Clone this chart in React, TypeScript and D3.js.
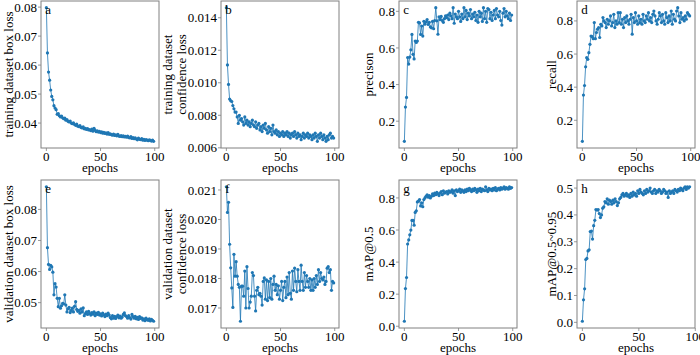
import React from "react";
import * as d3 from "d3";

const trainBoxLoss = [0.0798,0.0642,0.0576,0.0548,0.0514,0.0492,0.0480,0.0460,0.0452,0.0446,0.0430,0.0433,0.0425,0.0421,0.0424,0.0418,0.0415,0.0417,0.0410,0.0412,0.0406,0.0404,0.0407,0.0400,0.0398,0.0401,0.0395,0.0392,0.0396,0.0389,0.0388,0.0391,0.0385,0.0383,0.0387,0.0380,0.0382,0.0378,0.0381,0.0376,0.0377,0.0374,0.0379,0.0372,0.0382,0.0375,0.0370,0.0373,0.0369,0.0371,0.0367,0.0370,0.0365,0.0368,0.0364,0.0366,0.0362,0.0367,0.0361,0.0363,0.0360,0.0358,0.0362,0.0357,0.0359,0.0356,0.0361,0.0355,0.0354,0.0357,0.0353,0.0356,0.0352,0.0354,0.0351,0.0355,0.0350,0.0349,0.0353,0.0347,0.0350,0.0346,0.0349,0.0345,0.0342,0.0348,0.0344,0.0343,0.0346,0.0341,0.0344,0.0340,0.0343,0.0341,0.0339,0.0342,0.0340,0.0338,0.0341,0.0337];
const trainConfLoss = [0.01462,0.0111,0.0099,0.0090,0.0089,0.00885,0.0086,0.0084,0.0082,0.0082,0.0079,0.0075,0.0080,0.0077,0.0078,0.0076,0.0074,0.0079,0.0075,0.0077,0.0074,0.0076,0.0073,0.0075,0.0077,0.0074,0.0073,0.0076,0.0072,0.0074,0.0075,0.0071,0.0073,0.0070,0.0074,0.0072,0.0075,0.0071,0.0069,0.0073,0.0070,0.0072,0.0068,0.0074,0.0070,0.0069,0.0071,0.0068,0.0070,0.0067,0.0069,0.0068,0.0070,0.0067,0.0069,0.0068,0.0070,0.0067,0.0069,0.0066,0.0068,0.0069,0.0067,0.0070,0.0068,0.0066,0.0069,0.0067,0.0068,0.0065,0.0067,0.0069,0.0066,0.0068,0.0067,0.0069,0.0066,0.0068,0.0067,0.0065,0.0068,0.0066,0.0069,0.0067,0.0064,0.0068,0.0066,0.0069,0.0067,0.0065,0.0068,0.0066,0.0064,0.0067,0.0065,0.0068,0.0069,0.0066,0.0067,0.0066];
const precision = [0.090,0.277,0.330,0.548,0.512,0.550,0.590,0.674,0.565,0.540,0.638,0.630,0.638,0.740,0.737,0.674,0.720,0.665,0.746,0.730,0.742,0.755,0.728,0.740,0.715,0.710,0.745,0.705,0.750,0.820,0.748,0.675,0.770,0.755,0.772,0.750,0.740,0.760,0.775,0.765,0.780,0.755,0.790,0.775,0.760,0.820,0.735,0.785,0.770,0.760,0.800,0.770,0.745,0.785,0.760,0.820,0.770,0.805,0.755,0.790,0.775,0.810,0.760,0.785,0.770,0.795,0.750,0.780,0.740,0.800,0.770,0.790,0.745,0.820,0.760,0.800,0.740,0.815,0.810,0.760,0.795,0.750,0.780,0.805,0.760,0.815,0.780,0.770,0.800,0.750,0.725,0.790,0.815,0.770,0.800,0.775,0.760,0.790,0.750,0.780];
const recall = [0.073,0.352,0.410,0.523,0.578,0.568,0.608,0.659,0.709,0.705,0.693,0.790,0.693,0.730,0.750,0.760,0.700,0.780,0.770,0.820,0.800,0.790,0.760,0.810,0.780,0.800,0.830,0.770,0.790,0.840,0.760,0.800,0.780,0.850,0.790,0.850,0.780,0.810,0.760,0.820,0.790,0.830,0.800,0.780,0.810,0.840,0.720,0.820,0.790,0.850,0.800,0.780,0.830,0.790,0.810,0.780,0.840,0.800,0.790,0.830,0.810,0.850,0.800,0.820,0.790,0.840,0.860,0.830,0.800,0.780,0.810,0.850,0.830,0.790,0.840,0.800,0.780,0.850,0.820,0.790,0.830,0.800,0.860,0.780,0.840,0.810,0.800,0.860,0.880,0.830,0.790,0.850,0.810,0.820,0.800,0.830,0.810,0.850,0.840,0.830];
const valBoxLoss = [0.0873,0.0677,0.0623,0.0607,0.0620,0.0615,0.0598,0.0525,0.0561,0.0550,0.0514,0.0487,0.0514,0.0482,0.0490,0.0498,0.0496,0.0525,0.0492,0.0470,0.0480,0.0485,0.0468,0.0475,0.0482,0.0470,0.0488,0.0503,0.0478,0.0472,0.0475,0.0466,0.0480,0.0470,0.0483,0.0458,0.0465,0.0470,0.0462,0.0472,0.0465,0.0460,0.0468,0.0463,0.0470,0.0458,0.0466,0.0462,0.0469,0.0460,0.0464,0.0457,0.0466,0.0461,0.0455,0.0463,0.0458,0.0466,0.0460,0.0452,0.0448,0.0458,0.0450,0.0456,0.0449,0.0455,0.0460,0.0451,0.0457,0.0450,0.0454,0.0462,0.0467,0.0458,0.0455,0.0450,0.0458,0.0452,0.0447,0.0462,0.0455,0.0450,0.0456,0.0448,0.0453,0.0446,0.0455,0.0449,0.0451,0.0444,0.0448,0.0442,0.0450,0.0445,0.0443,0.0448,0.0441,0.0446,0.0443,0.0440];
const valConfLoss = [0.02111,0.02024,0.02058,0.01916,0.01836,0.01768,0.01702,0.01882,0.01808,0.01857,0.01808,0.01780,0.01770,0.01655,0.01774,0.01774,0.01740,0.01825,0.01700,0.01840,0.01766,0.01700,0.01720,0.01740,0.01820,0.01810,0.01740,0.01690,0.01760,0.01770,0.01745,0.01750,0.01740,0.01710,0.01790,0.01802,0.01730,0.01795,0.01725,0.01790,0.01735,0.01800,0.01730,0.01780,0.01808,0.01760,0.01780,0.01745,0.01775,0.01730,0.01760,0.01790,0.01725,0.01770,0.01790,0.01735,0.01805,0.01745,0.01820,0.01750,0.01730,0.01825,0.01760,0.01835,0.01790,0.01755,0.01830,0.01790,0.01760,0.01845,0.01790,0.01760,0.01820,0.01770,0.01810,0.01790,0.01770,0.01800,0.01760,0.01795,0.01760,0.01800,0.01770,0.01810,0.01780,0.01830,0.01790,0.01820,0.01800,0.01795,0.01805,0.01780,0.01790,0.01835,0.01840,0.01820,0.01830,0.01760,0.01790,0.01785];
const map50 = [0.031,0.235,0.304,0.513,0.538,0.570,0.600,0.660,0.660,0.630,0.710,0.720,0.775,0.780,0.790,0.750,0.770,0.745,0.790,0.800,0.810,0.820,0.805,0.815,0.800,0.810,0.825,0.815,0.830,0.820,0.835,0.825,0.815,0.830,0.840,0.820,0.845,0.830,0.835,0.840,0.825,0.845,0.835,0.840,0.850,0.830,0.845,0.815,0.850,0.840,0.845,0.855,0.835,0.850,0.845,0.835,0.850,0.840,0.855,0.845,0.860,0.850,0.840,0.855,0.845,0.860,0.850,0.835,0.855,0.845,0.860,0.840,0.855,0.850,0.845,0.870,0.850,0.840,0.860,0.850,0.855,0.845,0.860,0.850,0.865,0.845,0.855,0.860,0.850,0.865,0.855,0.860,0.870,0.855,0.865,0.860,0.855,0.870,0.860,0.865];
const map5095 = [0.004,0.084,0.125,0.234,0.238,0.266,0.270,0.338,0.340,0.310,0.360,0.380,0.420,0.418,0.420,0.405,0.390,0.400,0.425,0.430,0.450,0.445,0.460,0.440,0.455,0.450,0.440,0.455,0.445,0.460,0.450,0.435,0.445,0.460,0.465,0.475,0.480,0.470,0.475,0.480,0.470,0.475,0.465,0.480,0.470,0.485,0.475,0.480,0.470,0.490,0.480,0.495,0.485,0.480,0.475,0.490,0.480,0.495,0.485,0.490,0.500,0.485,0.480,0.490,0.495,0.480,0.490,0.485,0.495,0.490,0.480,0.485,0.495,0.490,0.480,0.485,0.465,0.490,0.480,0.485,0.490,0.480,0.495,0.490,0.485,0.495,0.490,0.500,0.495,0.490,0.500,0.505,0.495,0.505,0.500,0.505];

const xTicks = [0, 50, 100];
const panelLetters = ["a", "b", "c", "d", "e", "f", "g", "h"];
const yLabels = [
  ["training dataset box loss"],
  ["training dataset", "confidence loss"],
  ["precison"],
  ["recall"],
  ["validation dataset box loss"],
  ["validation dataset", "confidence loss"],
  ["mAP@0.5"],
  ["mAP@0.5~0.95"],
];
const yTickSets = [
  [0.04, 0.05, 0.06, 0.07, 0.08],
  [0.006, 0.008, 0.010, 0.012, 0.014],
  [0.2, 0.4, 0.6, 0.8],
  [0.2, 0.4, 0.6, 0.8],
  [0.05, 0.06, 0.07, 0.08],
  [0.017, 0.018, 0.019, 0.020, 0.021],
  [0.0, 0.2, 0.4, 0.6, 0.8],
  [0.0, 0.1, 0.2, 0.3, 0.4, 0.5],
];
const yFormats = [".2f", ".3f", ".1f", ".1f", ".2f", ".3f", ".1f", ".1f"];
const series = [trainBoxLoss, trainConfLoss, precision, recall, valBoxLoss, valConfLoss, map50, map5095];

// layout
const colLeft = [41, 221, 399, 577];
const colWidth = 118;
const rowTop = [1, 180];
const rowBottom = [148, 328];
const labelX = [[8], [167.5, 181], [368], [551]];

const FONT = "'Liberation Serif', 'Times New Roman', serif";
const FRAME = "#808080";
const BLUE = "#1f77b4";

function Panel({ idx }: { idx: number }) {
  const col = idx % 4;
  const row = Math.floor(idx / 4);
  const data = series[idx];
  const L = colLeft[col];
  const R = L + colWidth;
  const T = rowTop[row];
  const B = rowBottom[row];
  const n = data.length - 1;
  const x = d3.scaleLinear().domain([-0.05 * n, n * 1.05]).range([L, R]);
  const [mn, mx] = d3.extent(data) as [number, number];
  const pad = (mx - mn) * 0.05;
  const y = d3.scaleLinear().domain([mn - pad, mx + pad]).range([B, T]);
  const line = d3.line<number>().x((_, i) => x(i)).y((d) => y(d));
  const fmt = d3.format(yFormats[idx]);
  const labels = yLabels[idx];
  const lx = labelX[col];
  const cy = (T + B) / 2;
  return (
    <g>
      <path d={line(data) || ""} fill="none" stroke={BLUE} strokeWidth={1} strokeOpacity={0.8} />
      {data.map((d, i) => (
        <circle key={i} cx={x(i)} cy={y(d)} r={1.6} fill={BLUE} />
      ))}
      <rect x={L} y={T} width={R - L} height={B - T} fill="none" stroke={FRAME} strokeWidth={1} />
      {xTicks.map((t) => (
        <g key={"x" + t}>
          <line x1={x(t)} x2={x(t)} y1={B} y2={B + 3} stroke={FRAME} strokeWidth={0.8} />
          <text x={x(t)} y={B + 12.5} textAnchor="middle" fontSize={13} fontFamily={FONT} fill="#000">{t}</text>
        </g>
      ))}
      {yTickSets[idx].map((t) => (
        <g key={"y" + t}>
          <line x1={L - 3} x2={L} y1={y(t)} y2={y(t)} stroke={FRAME} strokeWidth={0.8} />
          <text x={L - 4} y={y(t)} dy="0.35em" textAnchor="end" fontSize={13} fontFamily={FONT} fill="#000">{fmt(t)}</text>
        </g>
      ))}
      <text x={(L + R) / 2} y={B + 24} textAnchor="middle" fontSize={13} fontFamily={FONT} fill="#000">epochs</text>
      {labels.map((s, k) => (
        <text key={k} transform={`translate(${lx[k]},${cy}) rotate(-90)`} dy="0.35em" textAnchor="middle" fontSize={13} fontFamily={FONT} fill="#000">{s}</text>
      ))}
      <text x={x(0) - 1} y={T + 13} fontSize={13} fontFamily={FONT} fill="#000">{panelLetters[idx]}</text>
    </g>
  );
}

export default function App() {
  return (
    <svg width={700} height={355} style={{ position: "absolute", left: 0, top: 0, background: "#fff" }}>
      <rect width={700} height={355} fill="#fff" />
      {series.map((_, i) => (
        <Panel key={i} idx={i} />
      ))}
    </svg>
  );
}
